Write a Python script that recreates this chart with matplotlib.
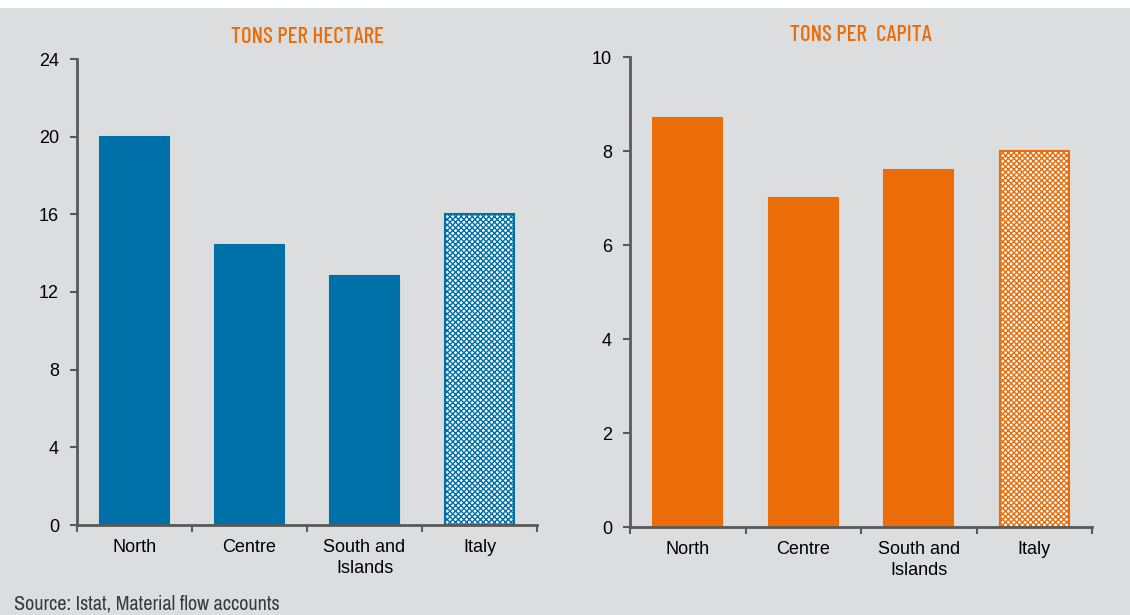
import matplotlib.pyplot as plt
import matplotlib.patches as mpatches

regions = ["North", "Centre", "South and\nIslands", "Italy"]
tons_per_hectare = [20.0, 14.4, 12.8, 16.0]
tons_per_capita = [8.7, 7.0, 7.6, 8.0]

blue = "#0070a8"
orange = "#ea6d0a"
bg = "#dcdddf"
axis_col = "#595959"

plt.rcParams['font.family'] = ['Liberation Sans', 'DejaVu Sans']

fig = plt.figure(figsize=(11.3, 6.15), dpi=100, facecolor=bg)
# thin white band across the top edge
fig.patches.append(mpatches.Rectangle((0, 607 / 615), 1, 8 / 615, transform=fig.transFigure,
                                      facecolor="white", edgecolor="none", zorder=-1))

ax1 = fig.add_axes([77 / 1130, 90 / 615, 460 / 1130, 466 / 615])
ax2 = fig.add_axes([630 / 1130, 88 / 615, 462 / 1130, 470 / 615])


def draw_panel(ax, values, color, ymax, step, title):
    ax.set_facecolor(bg)
    x = range(len(values))
    bars = ax.bar(x, values, width=0.6, color=color, edgecolor=color, linewidth=1.5, zorder=2)
    # total for Italy drawn with a checkered fill
    last = bars[-1]
    last.set_facecolor("white")
    last.set_hatch("xxxxxx")
    last.set_edgecolor(color)
    ax.set_xlim(-0.5, len(values) - 0.5)
    ax.set_ylim(0, ymax)
    ax.set_yticks(range(0, ymax + 1, step))
    ax.set_xticks(x)
    ax.set_xticklabels(regions, fontsize=13, linespacing=1.35)
    ax.set_xticks([i + 0.5 for i in range(-1, len(values))], minor=True)
    ax.tick_params(axis='x', which='major', length=0, pad=10)
    ax.tick_params(axis='x', which='minor', length=5, width=1.5, color=axis_col, direction='out')
    ax.tick_params(axis='y', length=5, width=1.5, color=axis_col, labelsize=13, pad=8)
    for side in ("top", "right"):
        ax.spines[side].set_visible(False)
    for side in ("left", "bottom"):
        ax.spines[side].set_color(axis_col)
        ax.spines[side].set_linewidth(2)
    ax.text(0.5, 1.025, title, transform=ax.transAxes, ha="center", va="bottom",
            color=orange, fontsize=16.5, fontweight="medium",
            family=['Barlow Condensed', 'DejaVu Sans'])


draw_panel(ax1, tons_per_hectare, blue, 24, 4, "TONS PER HECTARE")
draw_panel(ax2, tons_per_capita, orange, 10, 2, "TONS PER  CAPITA")

fig.text(14 / 1130, 2 / 615, "Source: Istat, Material flow accounts", fontsize=14.5,
         family=['Archivo Narrow', 'Liberation Sans'], color="#3a3a3a", va="bottom")

fig.savefig("out.png", dpi=100, facecolor=bg)
